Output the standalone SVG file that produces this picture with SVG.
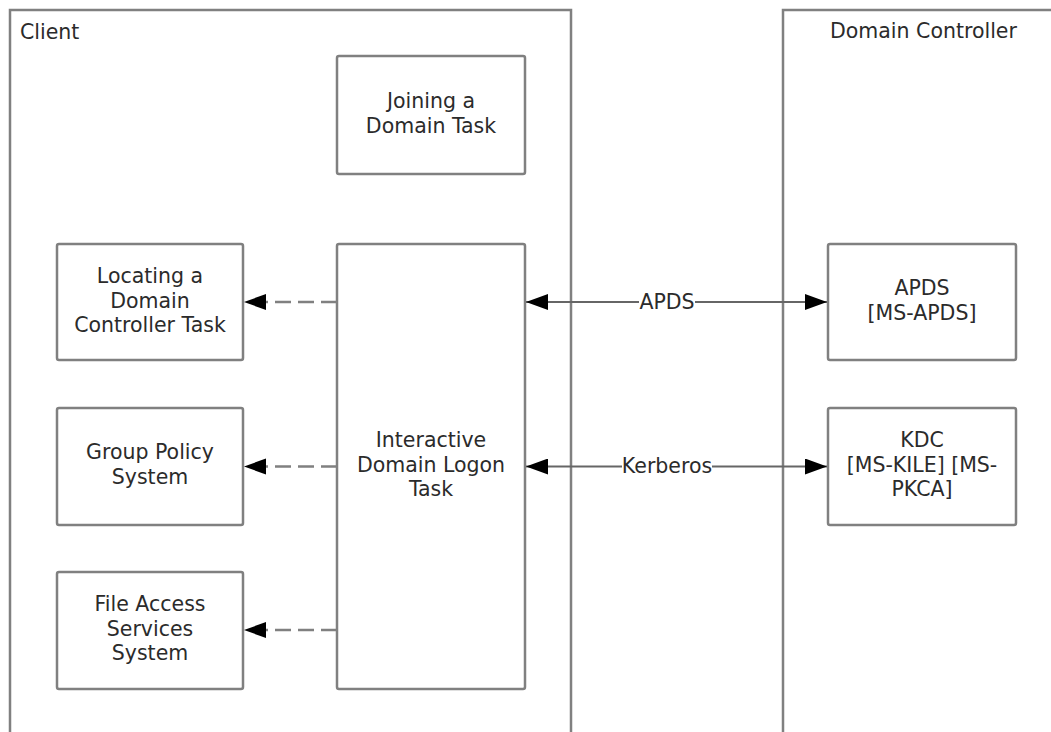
<svg xmlns="http://www.w3.org/2000/svg" width="1051" height="732" viewBox="0 0 1051 732">
<style>
.cont{fill:none;stroke:#808080;stroke-width:2.5}
.box{fill:#fff;stroke:#808080;stroke-width:2.5}
text{font-family:"DejaVu Sans","Verdana",sans-serif;font-size:20.5px;fill:#2b2b2b}
.c{text-anchor:middle}
.dash{stroke:#808080;stroke-width:2.5;stroke-dasharray:16 7;fill:none}
.solid{stroke:#666;stroke-width:2;fill:none}
.lbl{fill:#fff;stroke:none}
</style>
<defs>
<marker id="ah" viewBox="0 0 22 16" refX="22" refY="8" markerWidth="22" markerHeight="16" markerUnits="userSpaceOnUse" orient="auto-start-reverse">
<path d="M0,0 L22,8 L0,16 Z" fill="#000"/>
</marker>
</defs>
<g id="client">
<path class="cont" d="M10,740 V10 H571 V740"/>
<text x="20" y="39">Client</text>
</g>
<g id="domain-controller">
<path class="cont" d="M783,740 V10 H1060"/>
<text x="830" y="38">Domain Controller</text>
</g>
<g id="joining">
<rect class="box" x="337" y="56" width="188" height="118" rx="2"/>
<text class="c" x="431" y="108">Joining a</text>
<text class="c" x="431" y="132.5">Domain Task</text>
</g>
<g id="interactive">
<rect class="box" x="337" y="244" width="188" height="445" rx="2"/>
<text class="c" x="431" y="447">Interactive</text>
<text class="c" x="431" y="471.5">Domain Logon</text>
<text class="c" x="431" y="496">Task</text>
</g>
<g id="locating">
<rect class="box" x="57" y="244" width="186" height="116" rx="2"/>
<text class="c" x="150" y="283">Locating a</text>
<text class="c" x="150" y="307.5">Domain</text>
<text class="c" x="150" y="332">Controller Task</text>
</g>
<g id="group-policy">
<rect class="box" x="57" y="408" width="186" height="117" rx="2"/>
<text class="c" x="150" y="459">Group Policy</text>
<text class="c" x="150" y="483.5">System</text>
</g>
<g id="file-access">
<rect class="box" x="57" y="572" width="186" height="117" rx="2"/>
<text class="c" x="150" y="611">File Access</text>
<text class="c" x="150" y="635.5">Services</text>
<text class="c" x="150" y="660">System</text>
</g>
<g id="apds">
<rect class="box" x="828" y="244" width="188" height="116" rx="2"/>
<text class="c" x="922" y="295">APDS</text>
<text class="c" x="922" y="319.5">[MS-APDS]</text>
</g>
<g id="kdc">
<rect class="box" x="828" y="408" width="188" height="117" rx="2"/>
<text class="c" x="922" y="447">KDC</text>
<text class="c" x="922" y="471.5">[MS-KILE] [MS-</text>
<text class="c" x="922" y="496">PKCA]</text>
</g>
<g id="connectors">
<path class="dash" d="M337,302 H266"/>
<path d="M266,294 L244,302 L266,310 Z" fill="#000"/>
<path class="dash" d="M337,466.5 H266"/>
<path d="M266,458.5 L244,466.5 L266,474.5 Z" fill="#000"/>
<path class="dash" d="M337,630 H266"/>
<path d="M266,622 L244,630 L266,638 Z" fill="#000"/>
<path class="solid" d="M526,302 H827" marker-start="url(#ah)" marker-end="url(#ah)"/>
<rect class="lbl" x="639" y="292" width="56" height="20"/>
<text class="c" x="667" y="309">APDS</text>
<path class="solid" d="M526,466.5 H827" marker-start="url(#ah)" marker-end="url(#ah)"/>
<rect class="lbl" x="622" y="456" width="90" height="20"/>
<text class="c" x="667" y="473">Kerberos</text>
</g>
</svg>
